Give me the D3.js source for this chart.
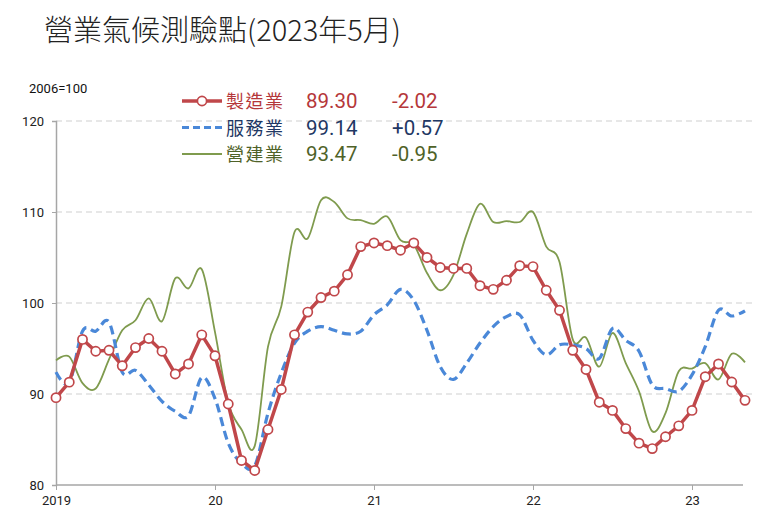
<!DOCTYPE html>
<html>
<head>
<meta charset="utf-8">
<script src="https://cdn.jsdelivr.net/npm/d3@7"></script>
<style>
  body { margin: 0; background: #fff; }
  svg { display: block; font-family: "Noto Sans CJK TC", "Noto Sans", sans-serif; }
</style>
</head>
<body>
<div id="chart"></div>
<script>
// monthly readings, 2019-01 .. 2023-05
const startYear = 2019;
const manufacturing = [
  89.6, 91.3, 96.0, 94.7, 94.8, 93.1, 95.1, 96.1, 94.7, 92.2, 93.3, 96.5,
  94.2, 88.9, 82.7, 81.6, 86.1, 90.5, 96.5, 99.0, 100.6, 101.3, 103.1, 106.2,
  106.6, 106.3, 105.8, 106.6, 105.0, 103.9, 103.8, 103.8, 101.9, 101.5, 102.5, 104.1,
  104.0, 101.4, 99.2, 94.8, 92.7, 89.1, 88.2, 86.2, 84.6, 84.0, 85.3, 86.5,
  88.2, 91.9, 93.3, 91.32, 89.30
];
const services = [
  92.4, 91.2, 96.9, 96.9, 97.9, 92.4, 92.6, 91.0, 89.2, 88.1, 87.6, 91.8,
  89.5, 84.6, 82.4, 82.1, 87.9, 92.3, 95.6, 96.9, 97.4, 97.0, 96.6, 96.9,
  98.7, 99.8, 101.5, 100.3, 97.0, 93.0, 91.6, 93.4, 95.6, 97.4, 98.5, 98.7,
  95.9, 94.3, 95.4, 95.4, 95.0, 93.9, 97.2, 95.9, 94.7, 91.0, 90.6, 90.3,
  92.1, 95.2, 99.2, 98.57, 99.14
];
const construction = [
  93.7, 94.1, 91.2, 90.6, 93.8, 97.0, 98.1, 100.5, 98.0, 102.7, 101.6, 103.7,
  96.8, 89.0, 86.1, 84.3, 95.2, 99.6, 107.8, 107.1, 111.3, 111.1, 109.3, 109.1,
  108.7, 109.5, 106.9, 106.4, 103.3, 101.4, 103.1, 107.6, 110.9, 108.9, 109.0, 108.9,
  110.0, 106.2, 104.5, 96.0, 96.2, 93.0, 96.7, 93.4, 90.3, 85.9, 87.9, 92.5,
  92.8, 93.4, 91.6, 94.42, 93.47
];

const seriesNames = ['製造業', '服務業', '營建業'];
const latestValues = ['89.30', '99.14', '93.47'];
const changes = ['-2.02', '+0.57', '-0.95'];
const yTicks = [80, 90, 100, 110, 120];
const yearLabels = ['2019', '20', '21', '22', '23'];

const width = 780, height = 523;
const margin = {top: 121, right: 35, bottom: 38, left: 56};

const svg = d3.select('#chart').append('svg')
  .attr('width', width)
  .attr('height', height);

const x = d3.scaleLinear()
  .domain([0, manufacturing.length - 1])
  .range([margin.left, 745]);

const y = d3.scaleLinear()
  .domain([80, 120])
  .range([height - margin.bottom, margin.top]);

// title
svg.append('text')
  .attr('x', 44).attr('y', 41)
  .attr('font-size', 29)
  .attr('font-weight', 300)
  .attr('fill', '#222')
  .text('營業氣候測驗點(2023年5月)');

svg.append('text')
  .attr('x', 29).attr('y', 93)
  .attr('font-size', 13)
  .attr('font-family', 'Roboto, "Noto Sans", sans-serif')
  .attr('fill', '#111')
  .text('2006=100');

// grid
svg.append('g')
  .selectAll('line')
  .data(yTicks.filter(d => d > 80))
  .join('line')
  .attr('x1', margin.left).attr('x2', 752)
  .attr('y1', d => y(d)).attr('y2', d => y(d))
  .attr('stroke', '#cfcfcf')
  .attr('stroke-width', 1.2)
  .attr('stroke-dasharray', '6,4');

// y axis
const yAxis = svg.append('g')
  .attr('transform', `translate(${margin.left},0)`)
  .call(d3.axisLeft(y).tickValues(yTicks).tickSize(4).tickPadding(8));
yAxis.select('.domain').attr('stroke', '#a6a6a6').attr('stroke-width', 1.5);
yAxis.selectAll('.tick line').attr('stroke', '#a6a6a6');
yAxis.selectAll('.tick text')
  .attr('font-size', 13).attr('fill', '#222')
  .attr('font-family', 'Roboto, "Noto Sans", sans-serif');

// x axis
const yearIdx = yearLabels.map((d, i) => i * 12);
const xAxis = svg.append('g')
  .attr('transform', `translate(0,${y(80)})`)
  .call(d3.axisBottom(x).tickValues(yearIdx).tickSize(5).tickPadding(6)
    .tickFormat((d, i) => yearLabels[i]));
xAxis.select('.domain').attr('stroke', '#a6a6a6').attr('stroke-width', 1.5)
  .attr('d', `M${margin.left},0H743`);
xAxis.selectAll('.tick line').attr('stroke', '#a6a6a6');
xAxis.selectAll('.tick text')
  .attr('font-size', 13).attr('fill', '#222')
  .attr('font-family', 'Roboto, "Noto Sans", sans-serif');

const smooth = d3.line()
  .x((d, i) => x(i))
  .y(d => y(d))
  .curve(d3.curveCardinal.tension(0));

const straight = d3.line()
  .x((d, i) => x(i))
  .y(d => y(d));

const red = '#c0474a', blue = '#4a88d8', green = '#7f9b4e';

svg.append('path')
  .datum(construction)
  .attr('d', smooth)
  .attr('fill', 'none')
  .attr('stroke', green)
  .attr('stroke-width', 1.8);

svg.append('path')
  .datum(services)
  .attr('d', smooth)
  .attr('fill', 'none')
  .attr('stroke', blue)
  .attr('stroke-width', 3.2)
  .attr('stroke-dasharray', '9,5');

svg.append('path')
  .datum(manufacturing)
  .attr('d', straight)
  .attr('fill', 'none')
  .attr('stroke', red)
  .attr('stroke-width', 3.5);

svg.append('g')
  .selectAll('circle')
  .data(manufacturing)
  .join('circle')
  .attr('cx', (d, i) => x(i))
  .attr('cy', d => y(d))
  .attr('r', 4.6)
  .attr('fill', '#fff')
  .attr('stroke', red)
  .attr('stroke-width', 1.7);

// legend
const legendRows = [
  {line: red, text: '#b5373a', dash: null, w: 3.5, marker: true},
  {line: blue, text: '#1f3864', dash: '7,4', w: 3.2, marker: false},
  {line: green, text: '#4f6228', dash: null, w: 1.8, marker: false}
];
const numFont = 'Roboto, "Noto Sans", sans-serif';
const legend = svg.append('g');
legendRows.forEach((r, i) => {
  const ly = 101 + i * 26.5;
  const g = legend.append('g').attr('transform', `translate(0,${ly})`);
  g.append('line')
    .attr('x1', 182).attr('x2', 222).attr('y1', 0).attr('y2', 0)
    .attr('stroke', r.line).attr('stroke-width', r.w)
    .attr('stroke-dasharray', r.dash);
  if (r.marker) {
    g.append('circle').attr('cx', 202).attr('cy', 0).attr('r', 4.6)
      .attr('fill', '#fff').attr('stroke', r.line).attr('stroke-width', 1.7);
  }
  g.append('text').attr('x', 226).attr('y', 7).attr('font-size', 18)
    .attr('letter-spacing', 1.5)
    .attr('fill', r.text).text(seriesNames[i]);
  g.append('text').attr('x', 306).attr('y', 7).attr('font-size', 20.5)
    .attr('font-family', numFont)
    .attr('fill', r.text).text(latestValues[i]);
  g.append('text').attr('x', 392).attr('y', 7).attr('font-size', 20.5)
    .attr('font-family', numFont)
    .attr('fill', r.text).text(changes[i]);
});
</script>
</body>
</html>
